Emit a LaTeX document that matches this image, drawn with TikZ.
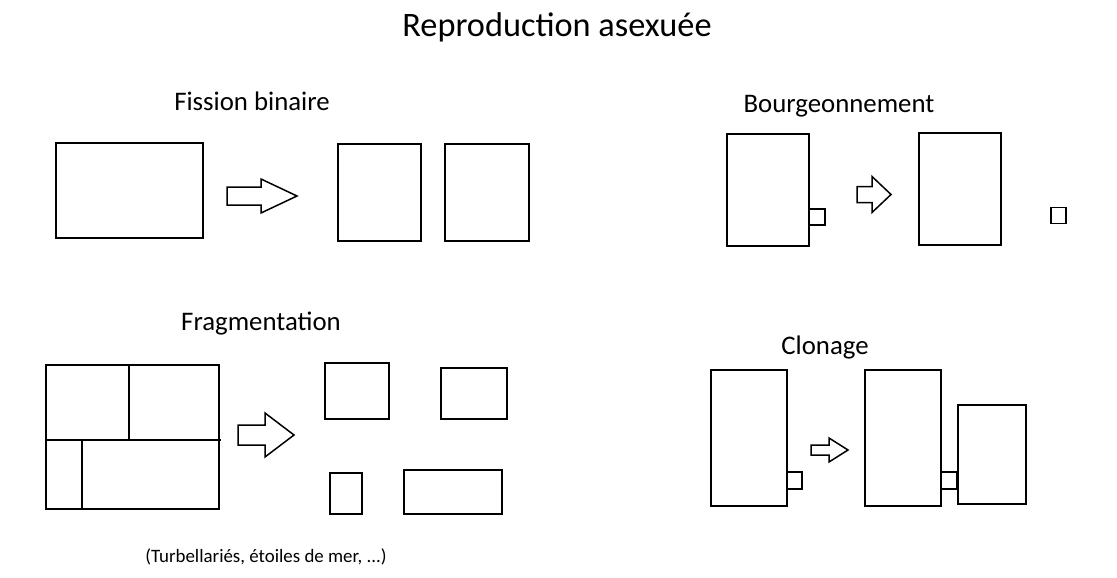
\documentclass[tikz,border=0pt]{standalone}
\usepackage{fontspec}
\setmainfont{Carlito}

\begin{document}
\begin{tikzpicture}[
    x=1pt, y=-1pt,
    cell/.style = {draw=black, line width=1.8pt},
    fat/.style = {draw=black, line width=1.5pt, line join=miter, fill=white},
    big/.style = {font=\fontsize{34.3}{40}\selectfont},
    label/.style = {font=\fontsize{26.8}{31}\selectfont},
    small/.style = {font=\fontsize{18.9}{22}\selectfont}
                    ]
    \useasboundingbox (0,0) rectangle (1117,578);
    % block arrow: shaft left x, centre y, shaft half, head base x, head half, tip x
    \def\harrow(#1,#2,#3,#4,#5,#6){%
      \draw[fat] (#1,#2-#3) -- (#4,#2-#3) -- (#4,#2-#5) -- (#6,#2)
        -- (#4,#2+#5) -- (#4,#2+#3) -- (#1,#2+#3) -- cycle;}
    \node[big] (title) at (557,27) {Reproduction asexuée};
    % fission binaire
    \node[label] (fis) at (252,101) {Fission binaire};
    \draw[cell] (56,143) rectangle (203,238);
    \harrow(227,196,9,261,17,297)
    \draw[cell] (338,144) rectangle (421,241);
    \draw[cell] (445,144) rectangle (529,241);
    % fragmentation
    \node[label] (frag) at (261,324) {Fragmentation};
    \draw[cell] (46,365) rectangle (219,509);
    \draw[cell] (46,440) -- (220.5,440);
    \draw[cell] (129,365) -- (129,440);
    \draw[cell] (82,440) -- (82,509);
    \harrow(238,435,10,265,22,294)
    \draw[cell] (325,363) rectangle (389,419);
    \draw[cell] (441,368) rectangle (507,419);
    \draw[cell] (330,473) rectangle (362,514);
    \draw[cell] (404,470) rectangle (502,514);
    \node[small] (ex) at (266,557) {(Turbellariés, étoiles de mer, ...)};
    % bourgeonnement
    \node[label] (bou) at (839,106) {Bourgeonnement};
    \draw[cell] (727,134) rectangle (809,246);
    \draw[cell] (809,209) rectangle (825,225);
    \harrow(857,194.5,8,872,18,891)
    \draw[cell] (919,133) rectangle (1001,245);
    \draw[cell] (1051,207.5) rectangle (1066,223.5);
    % clonage
    \node[label] (clo) at (825,347) {Clonage};
    \draw[cell] (711,370) rectangle (787,506);
    \draw[cell] (787,472) rectangle (802,489);
    \harrow(811,450,5,829,12,848)
    \draw[cell] (865,370) rectangle (941,506);
    \draw[cell] (941,472) rectangle (957,489);
    \draw[cell] (958,405) rectangle (1026,504);
\end{tikzpicture}
\end{document}
